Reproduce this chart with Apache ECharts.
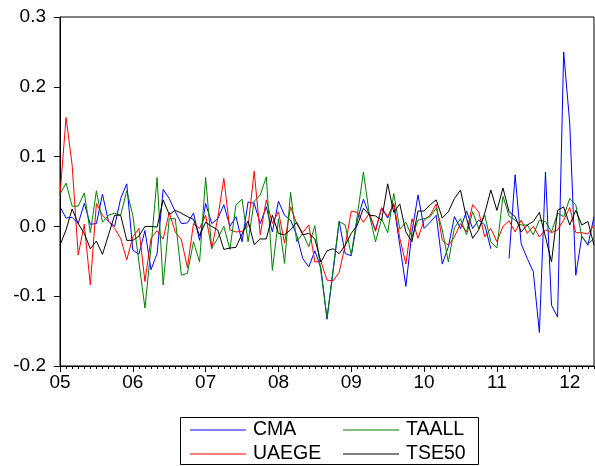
<!DOCTYPE html>
<html>
<head>
<meta charset="utf-8">
<script src="https://cdn.jsdelivr.net/npm/echarts@6/dist/echarts.min.js"></script>
<style>
  html, body { margin: 0; padding: 0; background: #fff; }
  #chart { width: 595px; height: 466px; }
</style>
</head>
<body>
<div id="chart"></div>
<script>
// Monthly returns, 2005M01 - 2012M05
const startYear = 2005;
const yearLabels = ['05', '06', '07', '08', '09', '10', '11', '12'];

const cma = [
  0.028, 0.012, 0.013, 0.004, 0.033, 0.003, 0.004, 0.046, 0.007, 0.000, 0.040, 0.061,
  -0.034, -0.040, -0.006, -0.062, -0.039, 0.053, 0.040, 0.021, 0.004, 0.005, 0.019, -0.020,
  0.033, 0.004, 0.011, 0.031, 0.000, 0.014, -0.022, 0.035, 0.033, 0.004, 0.028, -0.008,
  0.036, 0.016, 0.009, -0.012, -0.046, -0.058, -0.035, -0.060, -0.133, -0.065, 0.007, -0.039,
  -0.042, 0.009, 0.039, 0.016, -0.005, 0.026, 0.012, 0.031, -0.027, -0.086, -0.008, 0.045,
  -0.003, 0.006, 0.016, -0.054, -0.029, 0.014, -0.003, 0.022, -0.003, 0.009, 0.002, -0.032,
  null, null, -0.046, 0.074, -0.025, -0.046, -0.065, -0.152, 0.078, -0.113, -0.130, 0.250,
  0.148, -0.070, -0.014, -0.027, 0.014
];

const uaege = [
  0.045, 0.156, 0.088, -0.041, 0.003, -0.084, 0.033, 0.016, 0.007, -0.003, -0.017, -0.048,
  -0.015, -0.003, -0.079, -0.017, -0.006, -0.018, 0.020, -0.008, -0.019, -0.059, 0.004, -0.003,
  0.016, -0.032, 0.012, 0.069, -0.005, -0.008, -0.007, 0.000, 0.079, -0.012, 0.038, 0.004,
  0.021, -0.024, 0.028, 0.004, -0.009, 0.002, -0.051, -0.050, -0.077, -0.078, -0.066, -0.027,
  0.022, 0.020, 0.006, 0.019, -0.007, 0.027, 0.014, 0.033, -0.017, -0.054, 0.011, -0.017,
  0.009, 0.016, 0.032, -0.020, -0.027, -0.015, 0.004, -0.008, 0.031, 0.021, -0.015, -0.003,
  -0.022, 0.000, 0.008, -0.008, 0.009, -0.010, 0.000, -0.015, -0.005, -0.009, -0.005, 0.009,
  0.027, -0.009, -0.009, -0.011, 0.002
];

const taall = [
  0.046, 0.062, 0.029, 0.029, 0.048, -0.009, 0.051, 0.006, 0.016, 0.019, 0.016, 0.051,
  0.016, -0.051, -0.117, -0.030, 0.070, -0.084, 0.011, 0.011, -0.070, -0.067, -0.022, -0.051,
  0.070, -0.031, -0.017, 0.000, -0.033, 0.031, 0.039, -0.022, 0.036, 0.045, 0.071, -0.063,
  0.011, -0.053, 0.049, -0.022, -0.010, -0.029, 0.001, -0.065, -0.131, -0.062, 0.007, 0.002,
  -0.041, 0.016, 0.078, 0.016, -0.022, 0.011, -0.009, 0.047, -0.004, 0.006, -0.015, 0.009,
  0.011, 0.014, 0.026, -0.005, -0.051, -0.002, 0.011, -0.012, 0.021, -0.003, 0.016, -0.022,
  -0.031, 0.043, 0.015, 0.009, 0.002, 0.002, -0.012, 0.009, 0.007, -0.008, 0.019, 0.014,
  0.040, 0.031, -0.015, -0.025, -0.017
];

const tse50 = [
  -0.027, -0.005, 0.025, 0.004, -0.010, -0.032, -0.021, -0.040, -0.012, 0.016, 0.016, -0.020,
  -0.020, -0.014, 0.000, 0.000, -0.001, 0.038, 0.017, 0.023, 0.019, 0.014, 0.010, -0.013,
  0.006, 0.000, -0.005, -0.033, -0.031, -0.030, -0.011, 0.008, -0.026, -0.018, -0.018, 0.016,
  -0.010, -0.012, -0.005, 0.006, -0.012, -0.010, -0.018, -0.051, -0.035, -0.032, -0.039, -0.027,
  -0.010, 0.002, 0.026, 0.016, 0.015, 0.009, 0.061, 0.020, 0.032, -0.008, -0.022, 0.022,
  0.022, 0.031, 0.038, 0.012, 0.021, 0.040, 0.052, 0.011, -0.017, -0.005, 0.019, 0.052,
  0.023, 0.055, 0.021, 0.014, -0.008, 0.002, 0.007, 0.020, -0.015, -0.051, 0.023, 0.028,
  0.002, 0.023, 0.002, 0.007, -0.027
];

// Month categories (e.g. 2005M1)
const months = cma.map((_, i) => (startYear + Math.floor(i / 12)) + 'M' + (i % 12 + 1));

const FONT = '"Liberation Sans", Arial, sans-serif';

const chart = echarts.init(document.getElementById('chart'), null, { renderer: 'canvas' });

function lineSeries(name, data, color) {
  return {
    name: name,
    type: 'line',
    data: data,
    symbol: 'none',
    showSymbol: false,
    connectNulls: false,
    animation: false,
    lineStyle: { color: color, width: 1 },
    itemStyle: { color: color }
  };
}

// One legend entry per box cell (two columns, two rows).
// Extra top padding on the text lowers the label so its capitals sit on the key line.
function legendItem(name, left, top) {
  return {
    data: [name],
    left: left, top: top,
    padding: 0,
    icon: 'rect',
    itemWidth: 56, itemHeight: 1,
    textStyle: { color: '#000', fontFamily: FONT, fontSize: 19.5, padding: [9, 0, 0, 2] },
    selectedMode: false
  };
}

chart.setOption({
  animation: false,
  backgroundColor: '#fff',
  grid: {
    left: 60, right: 1, top: 17, bottom: 100,
    show: true, borderColor: '#000', borderWidth: 1
  },
  xAxis: [
    {
      type: 'category',
      data: months,
      boundaryGap: false,
      position: 'bottom',
      axisLine: { onZero: false, lineStyle: { color: '#000', width: 1 } },
      axisTick: { show: true, interval: 0, length: 3, lineStyle: { color: '#000' } },
      axisLabel: {
        interval: (idx) => idx % 12 === 0,
        formatter: (val, idx) => yearLabels[Math.floor(idx / 12)],
        color: '#000', fontFamily: FONT, fontSize: 19, margin: 7
      },
      splitLine: { show: false }
    },
    {
      type: 'category',
      data: months,
      boundaryGap: false,
      position: 'bottom',
      offset: 0,
      axisLine: { show: false, onZero: false },
      axisTick: { show: true, interval: (idx) => idx % 12 === 0, length: 6, lineStyle: { color: '#000' } },
      axisLabel: { show: false },
      splitLine: { show: false }
    }
  ],
  yAxis: {
    type: 'value',
    min: -0.2, max: 0.3, interval: 0.1,
    axisLine: { show: true, lineStyle: { color: '#000', width: 1 } },
    axisTick: { show: true, length: 6, lineStyle: { color: '#000' } },
    axisLabel: {
      formatter: (v) => v.toFixed(1),
      color: '#000', fontFamily: FONT, fontSize: 19, margin: 14
    },
    splitLine: { show: false }
  },
  legend: [
    legendItem('CMA', 190, 420),
    legendItem('UAEGE', 190, 444),
    legendItem('TAALL', 343, 420),
    legendItem('TSE50', 343, 444)
  ],
  graphic: [
    {
      type: 'rect',
      shape: { x: 180.5, y: 417.5, width: 298, height: 47 },
      style: { fill: 'none', stroke: '#000', lineWidth: 1 },
      silent: true
    }
  ],
  series: [
    lineSeries('CMA', cma, '#0000ff'),
    lineSeries('UAEGE', uaege, '#ff0000'),
    lineSeries('TAALL', taall, '#008000'),
    lineSeries('TSE50', tse50, '#000000')
  ]
});
</script>
</body>
</html>
